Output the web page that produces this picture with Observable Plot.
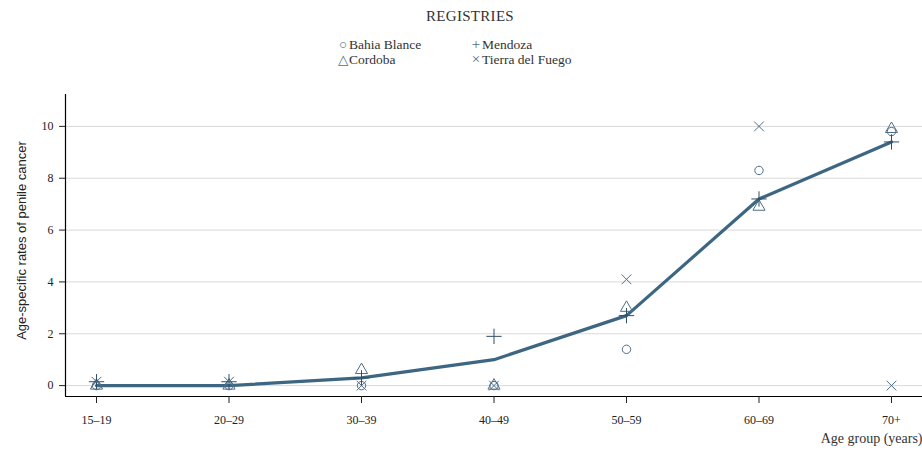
<!DOCTYPE html>
<html>
<head>
<meta charset="utf-8">
<script src="https://cdn.jsdelivr.net/npm/d3@7"></script>
<script src="https://cdn.jsdelivr.net/npm/@observablehq/plot@0.6"></script>
<style>
  html, body { margin: 0; padding: 0; background: #fff; }
  #wrap { position: relative; width: 922px; height: 450px; overflow: hidden; }
  #head { position: relative; width: 922px; height: 80px; font-family: "Liberation Serif", "DejaVu Serif", serif; color: #333; }
  #title { position: absolute; left: 0; width: 940px; top: 8px; text-align: center; font-size: 15px; letter-spacing: 0.3px; }
  .leg { position: absolute; font-size: 13.5px; white-space: nowrap; line-height: 13px; height: 13px; }
  .sym { color: #4d6e88; display: inline-block; width: 10px; text-align: center; margin-right: 1px; line-height: 13px; }
  .big { font-size: 15px; }
</style>
</head>
<body>
<div id="wrap">
  <div id="head">
    <div id="title">REGISTRIES</div>
  </div>
  <div id="chart"></div>
</div>
<script>
const ageGroups = ["15–19", "20–29", "30–39", "40–49", "50–59", "60–69", "70+"];
const fitted        = [0, 0, 0.3, 1.0, 2.7, 7.2, 9.4];
const bahiaBlanca   = [0, 0, 0, 0, 1.4, 8.3, 9.8];
const cordoba       = [0, 0, 0.6, 0, 3.0, 6.9, 9.9];
const mendoza       = [0.15, 0.15, 0.3, 1.9, 2.7, 7.2, 9.4];
const tierraFuego   = [0.15, 0.15, 0, 0, 4.1, 10.0, 0];
const yTicks = [0, 2, 4, 6, 8, 10];

const registries = [
  {name: "Bahia Blance", values: bahiaBlanca, symbol: "circle", glyph: "○", r: 4.2, big: false},
  {name: "Cordoba", values: cordoba, symbol: "triangle", glyph: "△", r: 4.5, big: false},
  {name: "Mendoza", values: mendoza, symbol: "plus", glyph: "+", r: 5, big: true},
  {name: "Tierra del Fuego", values: tierraFuego, symbol: "times", glyph: "×", r: 4.5, big: true}
];

// legend
const legPos = [
  {left: 338, top: 38}, {left: 338, top: 53}, {left: 471, top: 38}, {left: 471, top: 53}
];
const head = document.getElementById("head");
registries.forEach((r, i) => {
  const d = document.createElement("div");
  d.className = "leg";
  d.style.left = legPos[i].left + "px";
  d.style.top = legPos[i].top + "px";
  const s = document.createElement("span");
  s.className = "sym" + (r.big ? " big" : "");
  s.textContent = r.glyph;
  d.appendChild(s);
  d.appendChild(document.createTextNode(r.name));
  head.appendChild(d);
});

const idx = ageGroups.map((g, i) => i);
const lineData = ageGroups.map((g, i) => ({i, g, v: fitted[i]}));

const steel = "#4d6e88";
const marks = [
  Plot.gridY(yTicks, {stroke: "#d9d9d9", strokeOpacity: 1}),
  Plot.ruleY([-0.42], {stroke: "#000", strokeWidth: 1.2}),
  Plot.ruleX([-0.234], {stroke: "#000", strokeWidth: 1.2}),
  Plot.axisY(yTicks, {tickSize: 6, tickPadding: 6, fontSize: 12, fontFamily: "Liberation Serif, DejaVu Serif, serif", label: null, stroke: "#222"}),
  Plot.axisX(idx, {tickSize: 7, tickPadding: 12, fontSize: 12, fontFamily: "Liberation Serif, DejaVu Serif, serif", tickFormat: i => ageGroups[i], label: null, stroke: "#222"}),
  Plot.text(["Age-specific rates of penile cancer"], {frameAnchor: "left", dx: -44, dy: -5, rotate: -90, textAnchor: "middle", fontSize: 13, fontFamily: "Liberation Sans, DejaVu Sans, sans-serif", fill: "#222"}),
  Plot.text(["Age group (years)"], {frameAnchor: "bottom-right", dy: 46, textAnchor: "end", fontSize: 14, fontFamily: "Liberation Serif, DejaVu Serif, serif", fill: "#333"}),
  Plot.line(lineData, {x: "i", y: "v", stroke: "#3d6683", strokeWidth: 3.2})
];
registries.forEach(r => {
  const data = ageGroups.map((g, i) => ({i, g, v: r.values[i]}));
  marks.push(Plot.dot(data, {x: "i", y: "v", symbol: () => r.symbol, r: r.r, stroke: r.symbol === "plus" ? "#2f4f66" : steel, fill: "none", strokeWidth: 1}));
});

const chart = Plot.plot({
  width: 922,
  height: 370,
  marginTop: 14,
  marginBottom: 54,
  marginLeft: 65,
  marginRight: 0,
  style: {background: "#fff", color: "#222"},
  x: {type: "linear", domain: [-0.234, 6.234], axis: null},
  y: {domain: [-0.42, 11.23], axis: null},
  symbol: {type: "identity"},
  marks
});
document.getElementById("chart").appendChild(chart);
</script>
</body>
</html>
